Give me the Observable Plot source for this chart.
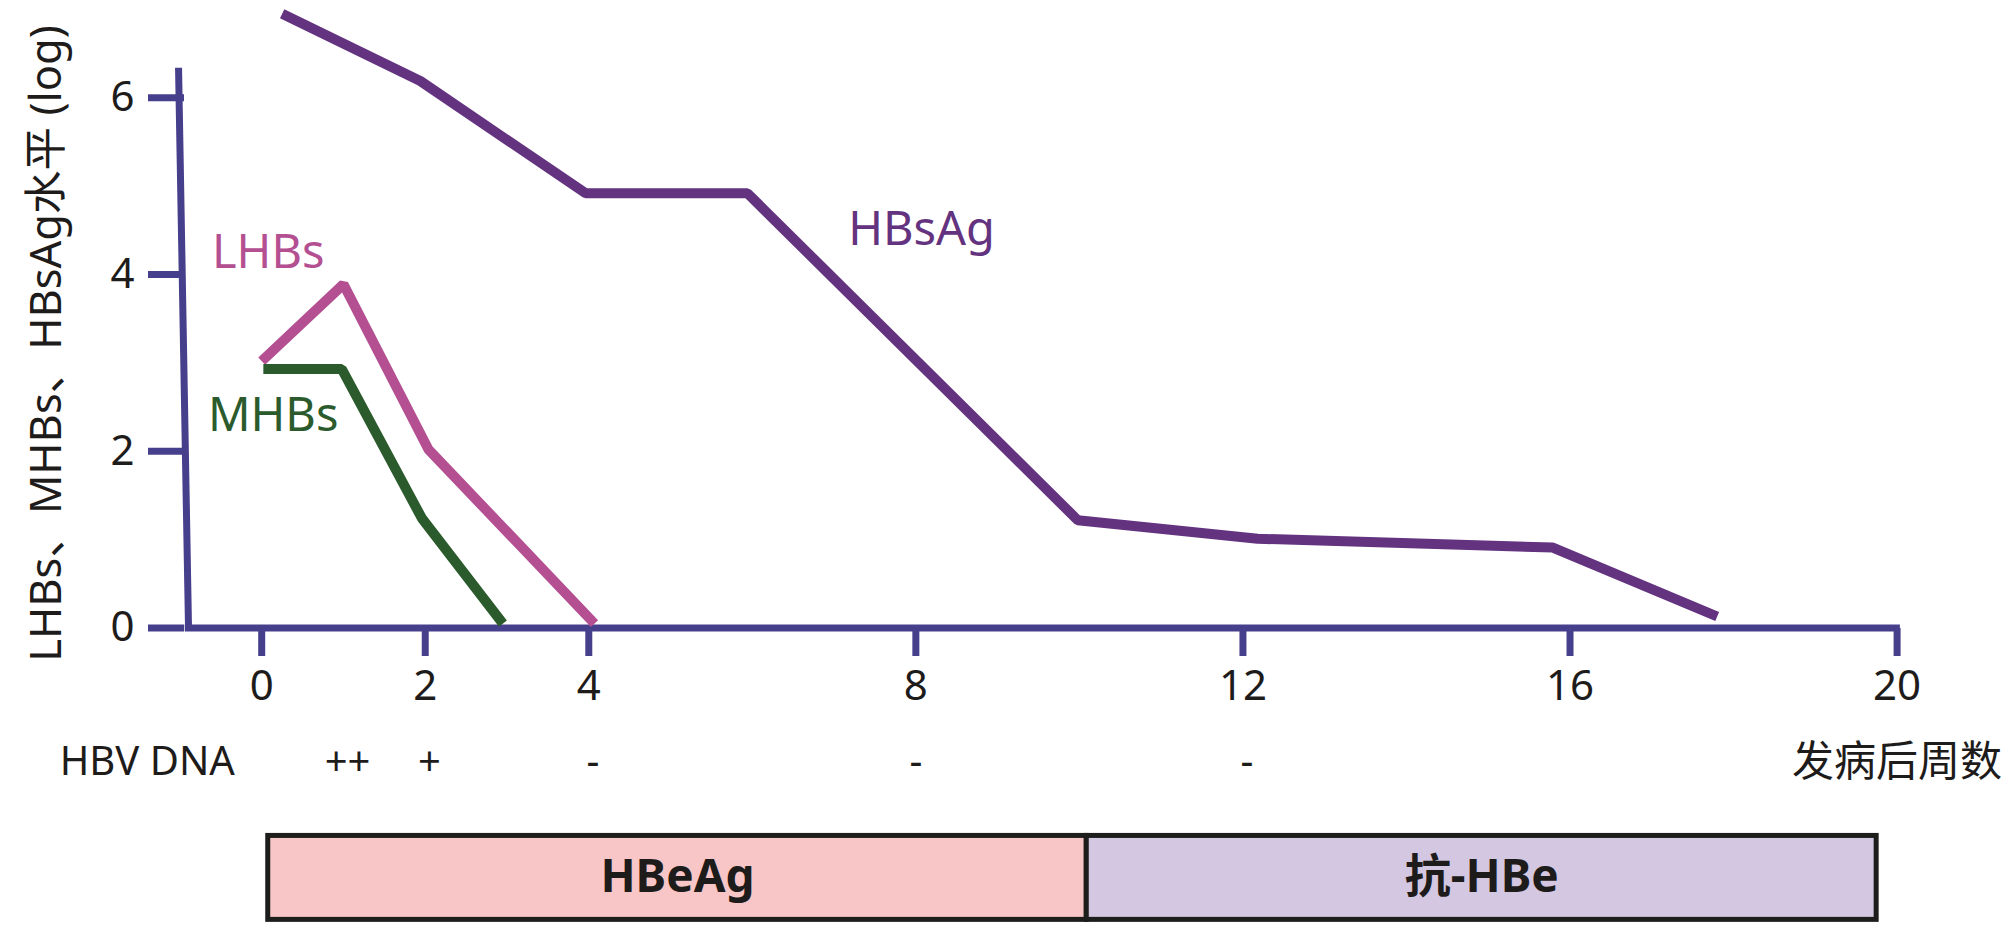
<!DOCTYPE html>
<html><head><meta charset="utf-8">
<script src="https://cdn.jsdelivr.net/npm/d3@7"></script>
<script src="https://cdn.jsdelivr.net/npm/@observablehq/plot@0.6"></script>
<style>
html,body{margin:0;padding:0;background:#fff;}
#chart svg{display:block;}
</style></head><body><div id="chart"></div>
<script>
// ---- data ----
const seriesNames = ["HBsAg", "LHBs", "MHBs"];
const hbsagWeek  = [0.25, 1.94, 3.96, 5.94, 9.98, 12.18, 15.79, 17.8];
const hbsagLevel = [6.95, 6.19, 4.92, 4.92, 1.22, 1.01, 0.91, 0.13];
const lhbsWeek   = [0, 1.0, 2.04, 4.07];
const lhbsLevel  = [3.02, 3.89, 2.02, 0.05];
const mhbsWeek   = [0.02, 0.98, 1.96, 2.95];
const mhbsLevel  = [2.93, 2.93, 1.24, 0.05];
const xTicks = [0, 2, 4, 8, 12, 16, 20];
const yTicks = [0, 2, 4, 6];
const dnaWeek = [1.05, 2.05, 4.05, 8.0, 12.05];
const dnaMark = ["++", "+", "-", "-", "-"];
const phaseName  = ["HBeAg", "抗-HBe"];
const phaseStart = [0.08, 10.09];
const phaseEnd   = [10.09, 19.75];
const labelWeek  = [8.07, 0.08, 0.14];
const labelLevel = [4.51, 4.24, 2.40];
const yTitle = "LHBs、MHBs、HBsAg水平 (log)";
const xTitle = "发病后周数";
const dnaTitle = "HBV DNA";

// ---- tables ----
const lineRows = [
  ...hbsagWeek.map((w, i) => ({series: "HBsAg", week: w, level: hbsagLevel[i]})),
  ...lhbsWeek.map((w, i) => ({series: "LHBs", week: w, level: lhbsLevel[i]})),
  ...mhbsWeek.map((w, i) => ({series: "MHBs", week: w, level: mhbsLevel[i]}))
];
const labelRows = seriesNames.map((s, i) => ({series: s, week: labelWeek[i], level: labelLevel[i]}));
const dnaRows = dnaWeek.map((w, i) => ({week: w, mark: dnaMark[i]}));
const phaseRows = phaseName.map((p, i) => ({phase: p, start: phaseStart[i], end: phaseEnd[i]}));

// ---- layout constants ----
const W = 2008, H = 931;
const axisColor = "#463f8b";
const inkColor = "#1e1b1b";
const dnaRowY = -1.52;
const barTop = -2.353, barBottom = -3.303, barMid = -2.82;
const yAxisFoot = -0.895, yAxisHead = -1.017, yAxisTopLevel = 6.34;
const font = "'Noto Sans', 'Noto Sans CJK SC', sans-serif";
const intFormat = d => String(d);

const chart = Plot.plot({
  width: W,
  height: H,
  marginTop: 0,
  marginLeft: 184,
  marginRight: 111,
  marginBottom: H - 628,
  style: {fontFamily: font, background: "#fff"},
  x: {domain: [0, 20], range: [261.2, 1896.6]},
  y: {domain: [0, 6], range: [627.5, 97.3]},
  color: {
    domain: ["HBsAg", "LHBs", "MHBs", "HBeAg", "抗-HBe"],
    range: ["#643380", "#b44f92", "#2b5b2c", "#f9c6c7", "#d4c7e1"]
  },
  marks: [
    // phase bars
    Plot.rect(phaseRows, {x1: "start", x2: "end", y1: barTop, y2: barBottom, fill: "phase", stroke: "#1d1d1b", strokeWidth: 5}),
    Plot.text(phaseRows, {x: d => (d.start + d.end) / 2, y: barMid, text: "phase", fontSize: 46, fontWeight: "bold", fill: inkColor}),
    // axes
    Plot.link([yAxisFoot], {x1: yAxisHead, y1: yAxisTopLevel, x2: yAxisFoot, y2: 0, stroke: axisColor, strokeWidth: 7}),
    Plot.ruleY([0], {x1: yAxisFoot - 0.04, x2: 20.04, stroke: axisColor, strokeWidth: 7}),
    Plot.axisX(xTicks, {anchor: "bottom", tickSize: 28, tickPadding: 14, tickFormat: intFormat, stroke: axisColor, strokeWidth: 7, fill: inkColor, fontSize: 42, label: null}),
    Plot.axisY(yTicks, {anchor: "left", tickSize: 36, tickPadding: 14, tickFormat: intFormat, stroke: axisColor, strokeWidth: 7, fill: inkColor, fontSize: 42, label: null}),
    // series
    Plot.line(lineRows, {x: "week", y: "level", z: "series", stroke: "series", strokeWidth: 10, strokeLinejoin: "miter", strokeLinecap: "butt"}),
    Plot.text(labelRows, {x: "week", y: "level", text: "series", fill: "series", fontSize: 47}),
    // titles / rows
    Plot.text([yTitle], {x: -2.63, y: 3.22, text: d => d, rotate: -90, fontSize: 43.5, fill: inkColor}),
    Plot.text([dnaTitle], {x: -2.47, y: dnaRowY, text: d => d, textAnchor: "start", fontSize: 40, fill: inkColor}),
    Plot.text(dnaRows, {x: "week", y: dnaRowY, text: "mark", fontSize: 40, fill: inkColor}),
    Plot.text([xTitle], {x: 20, y: dnaRowY, text: d => d, fontSize: 42, fill: inkColor})
  ]
});
document.getElementById("chart").appendChild(chart);
</script>
</body></html>
